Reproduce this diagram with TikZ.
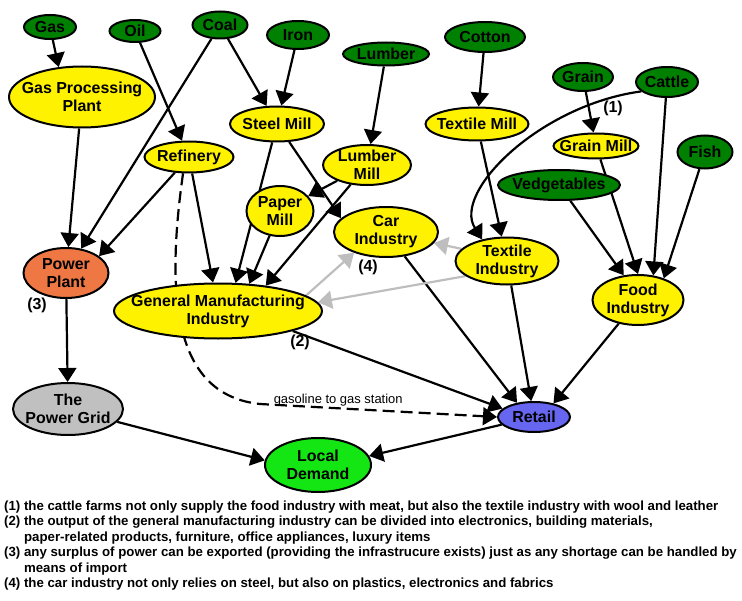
\documentclass[tikz,border=0pt]{standalone}
\usepackage{fontspec}
\setmainfont{Liberation Sans}
\newfontfamily\notefont{Liberation Sans}
\usetikzlibrary{shapes.geometric,arrows.meta,backgrounds}
\definecolor{rawgreen}{RGB}{0,128,0}
\definecolor{plantorange}{RGB}{238,119,68}
\definecolor{gridgray}{RGB}{192,192,192}
\definecolor{retailblue}{RGB}{102,102,240}
\definecolor{demandgreen}{RGB}{20,230,20}
\definecolor{sidegray}{RGB}{190,190,190}

\begin{document}
\begin{tikzpicture}
			[x=1bp,y=-1bp,
			every label/.style={font=\fontsize{16}{18}\selectfont\bfseries,align=center,inner sep=0pt},
			blob/.style={ellipse,draw,line width=2bp,inner sep=0pt},
			raw/.style={blob,fill=rawgreen},
			mill/.style={blob,fill=yellow},
			dims/.style 2 args={minimum width=#1bp,minimum height=#2bp},
			link/.style={line width=2.2bp,-{Triangle[length=14bp,width=18bp]}},
			side/.style={link,draw=sidegray},
			tag/.style={font=\fontsize{16}{18}\selectfont\bfseries,inner sep=0pt}]
			\useasboundingbox (0,0) rectangle (742,601);
			\node[raw,dims={52}{24},label=center:Gas] (gas) at (50,27) {};
			\node[raw,dims={51}{22},label=center:Oil] (oil) at (135,31) {};
			\node[raw,dims={55}{27},label=center:Coal] (coal) at (220,25) {};
			\node[raw,dims={62}{28},label=center:Iron] (iron) at (298,35) {};
			\node[raw,dims={86}{23},label=center:Lumber] (lumber) at (386,54) {};
			\node[raw,dims={80}{30},label=center:Cotton] (cotton) at (485,37) {};
			\node[raw,dims={60}{28},label=center:Grain] (grain) at (583,77) {};
			\node[raw,dims={62}{30},label=center:Cattle] (cattle) at (667,82) {};
			\node[raw,dims={55}{33},label=center:Fish] (fish) at (705,152) {};
			\node[raw,dims={122}{30},label=center:Vedgetables] (veg) at (559,185) {};
			\node[mill,dims={146}{61},label={center:Gas Processing\\Plant}] (gpp) at (82,97) {};
			\node[mill,dims={94}{35},label=center:Steel Mill] (steel) at (277,124) {};
			\node[mill,dims={89}{31},label=center:Refinery] (refin) at (189,157) {};
			\node[mill,dims={88}{40},label={center:Lumber\\Mill}] (lmill) at (367,165) {};
			\node[mill,dims={67}{50},label={center:Paper\\Mill}] (pmill) at (280,211) {};
			\node[mill,dims={103}{33},label=center:Textile Mill] (tmill) at (477,124) {};
			\node[mill,dims={85}{25},label=center:Grain Mill] (gmill) at (596,146) {};
			\node[mill,dims={104}{50},label={center:Car\\Industry}] (car) at (386,232) {};
			\node[mill,dims={103}{47},label={center:Textile\\Industry}] (texind) at (507,261) {};
			\node[mill,dims={91}{50},label={center:Food\\Industry}] (food) at (638,300) {};
			\node[mill,dims={208}{55},label={center:General Manufacturing\\Industry}] (gmi) at (218,311) {};
			\node[blob,fill=plantorange,dims={85}{50},label={center:Power\\Plant}] (power) at (66,273) {};
			\node[blob,fill=gridgray,dims={110}{52},label={center:The\\Power Grid}] (grid) at (68,409) {};
			\node[blob,fill=retailblue,dims={72}{30},label=center:Retail] (retail) at (534,417) {};
			\node[blob,fill=demandgreen,dims={106}{54},label={center:Local\\Demand}] (demand) at (318,465) {};
			\node[tag] (tag1) at (613,108) {(1)};
			\node[tag] (tag2) at (300,342) {(2)};
			\node[tag] (tag3) at (37,305) {(3)};
			\node[tag] (tag4) at (368,267) {(4)};
			\node[anchor=base west,inner sep=0pt,font=\notefont\bfseries\fontsize{13.3}{15.6}\selectfont] (notes) at (4,510)
			{\begin{tabular}[t]{@{}l@{ }l@{}}
			(1) & the cattle farms not only supply the food industry with meat, but also the textile industry with wool and leather\\
			(2) & the output of the general manufacturing industry can be divided into electronics, building materials,\\
			& paper-related products, furniture, office appliances, luxury items\\
			(3) & any surplus of power can be exported (providing the infrastrucure exists) just as any shortage can be handled by\\
			& means of import\\
			(4) & the car industry not only relies on steel, but also on plastics, electronics and fabrics
			\end{tabular}};
			
			\begin{pgfonlayer}{background}
			\foreach \from/\to in {gas/gpp.128,gpp/power,coal/power,refin/power.27,oil/refin,coal/steel,iron/steel,lumber/lmill,cotton/tmill,grain/gmill,tmill/texind,refin/gmi.100,steel/gmi.58,pmill/gmi.41,lmill/gmi.28,lmill/pmill,steel/car.163,veg/food.120,gmill/food.90,cattle/food.58,fish/food.40,gmi.345/retail.165,car/retail.140,texind/retail.100,food/retail.35,power/grid,grid/demand.175,retail/demand.10}
			\draw[link] (\from) -- (\to);
			\foreach \from/\to in {gmi.10/car.213,texind.165/car.347,texind.200/gmi.5}
			\draw[side] (\from) -- (\to);
			\draw[link] (cattle.200) .. controls (540,105) and (452,192) .. (texind.139);
			\draw[link,dash pattern=on 12bp off 6bp] (refin.250) .. controls (165,300) and (175,395) .. (260,404)
			-- node[pos=0.33,above,inner sep=1.5bp,font=\fontsize{13}{15}\selectfont] (gasline) {gasoline to gas station} (retail.west);
			\end{pgfonlayer}
			\end{tikzpicture}
\end{document}
